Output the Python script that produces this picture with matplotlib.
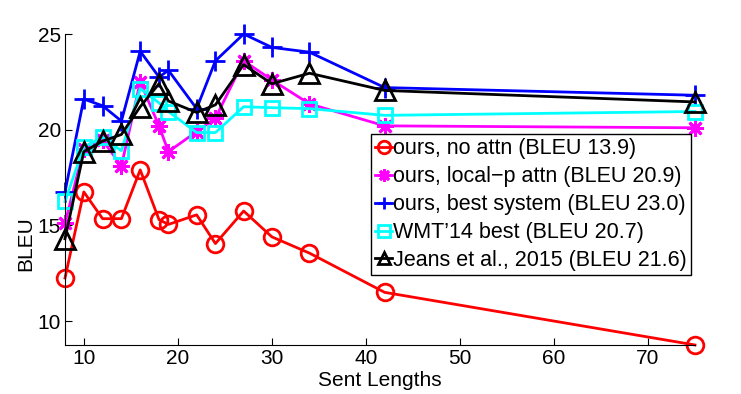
import matplotlib

matplotlib.use("Agg")
import matplotlib.pyplot as plt

plt.rcParams["font.family"] = ["Liberation Sans", "DejaVu Sans"]

sent_lengths = [8, 10, 12, 14, 16, 18, 19, 22, 24, 27, 30, 34, 42, 75]

no_attn = [12.25, 16.75, 15.35, 15.35, 17.9, 15.3, 15.05, 15.55, 14.05, 15.75, 14.4, 13.55, 11.5, 8.75]
local_p = [15.1, 19.0, 19.45, 18.1, 22.5, 20.2, 18.85, 19.9, 20.6, 23.6, 22.6, 21.35, 20.2, 20.1]
best_sys = [16.75, 21.6, 21.25, 20.45, 24.1, 22.75, 23.1, 21.1, 23.6, 25.0, 24.3, 24.05, 22.2, 21.8]
wmt14 = [16.25, 19.1, 19.6, 18.9, 22.15, 21.4, 20.95, 19.85, 19.85, 21.2, 21.15, 21.1, 20.75, 20.95]
jeans = [14.3, 18.85, 19.4, 19.75, 21.2, 22.4, 21.5, 20.9, 21.3, 23.4, 22.4, 22.95, 22.05, 21.45]

labels = [
    "ours, no attn (BLEU 13.9)",
    "ours, local\u2212p attn (BLEU 20.9)",
    "ours, best system (BLEU 23.0)",
    "WMT\u201914 best (BLEU 20.7)",
    "Jeans et al., 2015 (BLEU 21.6)",
]

series = [no_attn, local_p, best_sys, wmt14, jeans]
colors = ["#ff0000", "#ff00ff", "#0000ff", "#00ffff", "#000000"]
markers = ["o", (8, 2, 0), "+", "s", "^"]
msizes = [12, 12, 14, 10, 14]

fig = plt.figure(figsize=(7.41, 3.94), dpi=100)
ax = fig.add_axes([0.0877, 0.1244, 0.8502, 0.7893])

for ys, c, m, ms, lab in zip(series, colors, markers, msizes, labels):
    ax.plot(sent_lengths, ys, color=c, lw=2, marker=m, ms=ms, mfc="none",
            mec=c, mew=2, label=lab, clip_on=False)

all_vals = [v for s in series for v in s]
ax.set_xlim(min(sent_lengths), max(sent_lengths))
ax.set_ylim(min(all_vals), max(all_vals))
ax.set_xticks([10, 20, 30, 40, 50, 60, 70])
ax.set_yticks([10, 15, 20, 25])

for side in ("top", "right"):
    ax.spines[side].set_visible(False)
for side in ("left", "bottom"):
    ax.spines[side].set_linewidth(0.8)
ax.tick_params(direction="in", length=5, width=0.8, labelsize=15, pad=3)

ax.set_xlabel("Sent Lengths", fontsize=15)
ax.set_ylabel("BLEU", fontsize=15)
ax.xaxis.set_label_coords(0.5, -0.113)
ax.xaxis.label.set_va("center")
ax.yaxis.set_label_coords(-0.063, 0.325)
ax.yaxis.label.set_va("center")

# legend: markers only, hugging the text, as in the MATLAB original
leg = ax.legend(loc="upper left", bbox_to_anchor=(0.486, 0.678), borderaxespad=0,
                fontsize=15.5, handlelength=0.75, handletextpad=0.05,
                labelspacing=0.32, borderpad=0.2, fancybox=False,
                framealpha=1, edgecolor="black")
leg.get_frame().set_linewidth(1)
for h in leg.legend_handles:
    h.set_markersize(9)

fig.savefig("out.png", dpi=100)
